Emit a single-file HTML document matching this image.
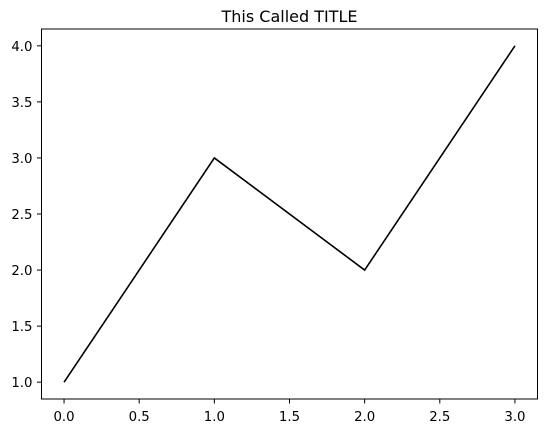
<!DOCTYPE html>
<html><head><meta charset="utf-8"><style>
body{margin:0;background:#fff;}
svg{display:block;font-family:"DejaVu Sans","Liberation Sans",sans-serif;}
</style></head><body>
<svg id="chart" width="547" height="433">
<rect x="0" y="0" width="547" height="433" fill="#fff"/>
<text x="289.5" y="22" text-anchor="middle" font-size="16" fill="#000">This Called TITLE</text>
<g id="ticks"></g>
<polyline id="line" fill="none" stroke="#000" stroke-width="1.6"/>
<rect x="41.5" y="29" width="496" height="370" fill="none" stroke="#000" stroke-width="1"/>
</svg>
<script>
const xValues=[0,1,2,3];
const yValues=[1,3,2,4];
const xTicks=[0,0.5,1,1.5,2,2.5,3];
const yTicks=[1,1.5,2,2.5,3,3.5,4];
const xTickLabels=["0.0","0.5","1.0","1.5","2.0","2.5","3.0"];
const yTickLabels=["1.0","1.5","2.0","2.5","3.0","3.5","4.0"];
const L=41.5,R=537.5,T=29,B=399;
const xmin=-0.15,xmax=3.15,ymin=0.85,ymax=4.15;
function sx(v){return L+(v-xmin)/(xmax-xmin)*(R-L);}
function sy(v){return B-(v-ymin)/(ymax-ymin)*(B-T);}
const ns="http://www.w3.org/2000/svg";
const g=document.getElementById('ticks');
xTicks.forEach((t,i)=>{
  const l=document.createElementNS(ns,'line');
  l.setAttribute('x1',sx(t));l.setAttribute('x2',sx(t));l.setAttribute('y1',B);l.setAttribute('y2',B+4.5);l.setAttribute('stroke','#000');
  
  
  g.appendChild(l);
  const tx=document.createElementNS(ns,'text');
  tx.setAttribute('x',sx(t));tx.setAttribute('y',B+22);tx.setAttribute('text-anchor','middle');tx.setAttribute('font-size','13.3');
  tx.textContent=xTickLabels[i];
  
  
  g.appendChild(tx);
});
yTicks.forEach((t,i)=>{
  const l=document.createElementNS(ns,'line');
  l.setAttribute('x1',L-4.5);l.setAttribute('x2',L);l.setAttribute('y1',sy(t));l.setAttribute('y2',sy(t));l.setAttribute('stroke','#000');
  
  
  g.appendChild(l);
  const tx=document.createElementNS(ns,'text');
  tx.setAttribute('x',L-9);tx.setAttribute('y',sy(t)+5);tx.setAttribute('text-anchor','end');tx.setAttribute('font-size','13.3');
  tx.textContent=yTickLabels[i];
  
  
  g.appendChild(tx);
});
document.getElementById('line').setAttribute('points',xValues.map((x,i)=>sx(x)+','+sy(yValues[i])).join(' '));
</script>
</body></html>
